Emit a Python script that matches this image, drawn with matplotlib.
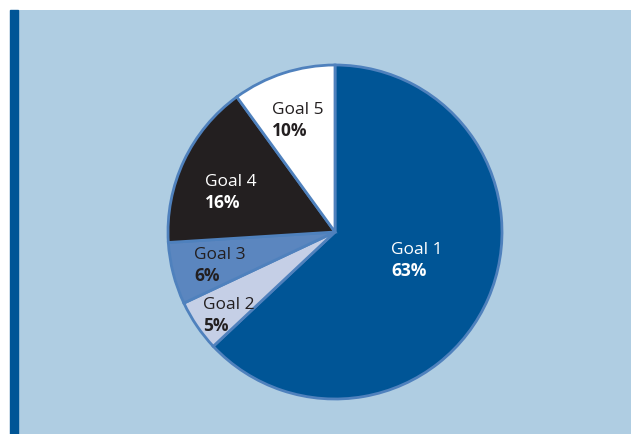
import matplotlib
matplotlib.use('Agg')
import matplotlib.pyplot as plt
from matplotlib.patches import Rectangle

goals = ['Goal 1', 'Goal 2', 'Goal 3', 'Goal 4', 'Goal 5']
shares = [63, 5, 6, 16, 10]
colors = ['#005596', '#c5cfe6', '#5b86bf', '#231f20', '#ffffff']
text_colors = ['white', '#231f20', '#231f20', 'white', '#231f20']

# label anchors (left edge, split between the two lines) in pie units
label_pos = [(0.335, -0.168), (-0.790, -0.497), (-0.844, -0.198),
             (-0.778, 0.240), (-0.377, 0.671)]

plt.rcParams['font.family'] = ['Open Sans', 'DejaVu Sans']

W, H = 631, 434
fig = plt.figure(figsize=(W / 100, H / 100), dpi=100)
fig.patch.set_facecolor('white')

# background panel + dark strip on the left
bg = fig.add_axes([10 / W, 0, (W - 10) / W, (H - 10) / H])
bg.set_facecolor('#afcde2')
bg.set_xticks([])
bg.set_yticks([])
for s in bg.spines.values():
    s.set_visible(False)
fig.patches.append(Rectangle((10 / W, 0), 8 / W, (H - 10) / H,
                             transform=fig.transFigure, color='#005596', zorder=5))

cx, cy, r = 335, 232, 167
ax = fig.add_axes([(cx - r) / W, (H - cy - r) / H, 2 * r / W, 2 * r / H])
ax.set_facecolor('none')
wedges, _ = ax.pie(shares, colors=colors, startangle=90, counterclock=False, radius=1,
                   wedgeprops=dict(edgecolor='#4f81bd', linewidth=2))
for w in wedges:
    w.set_clip_on(False)
ax.set_xlim(-1, 1)
ax.set_ylim(-1, 1)
ax.set_aspect('equal')
ax.axis('off')

for name, val, (lx, ly), tc in zip(goals, shares, label_pos, text_colors):
    ax.text(lx, ly + 0.01, name, ha='left', va='bottom', fontsize=12.5, color=tc)
    ax.text(lx, ly - 0.01, f'{val}%', ha='left', va='top', fontsize=12.5,
            fontweight='bold', color=tc)

fig.savefig('out.png', dpi=100)
